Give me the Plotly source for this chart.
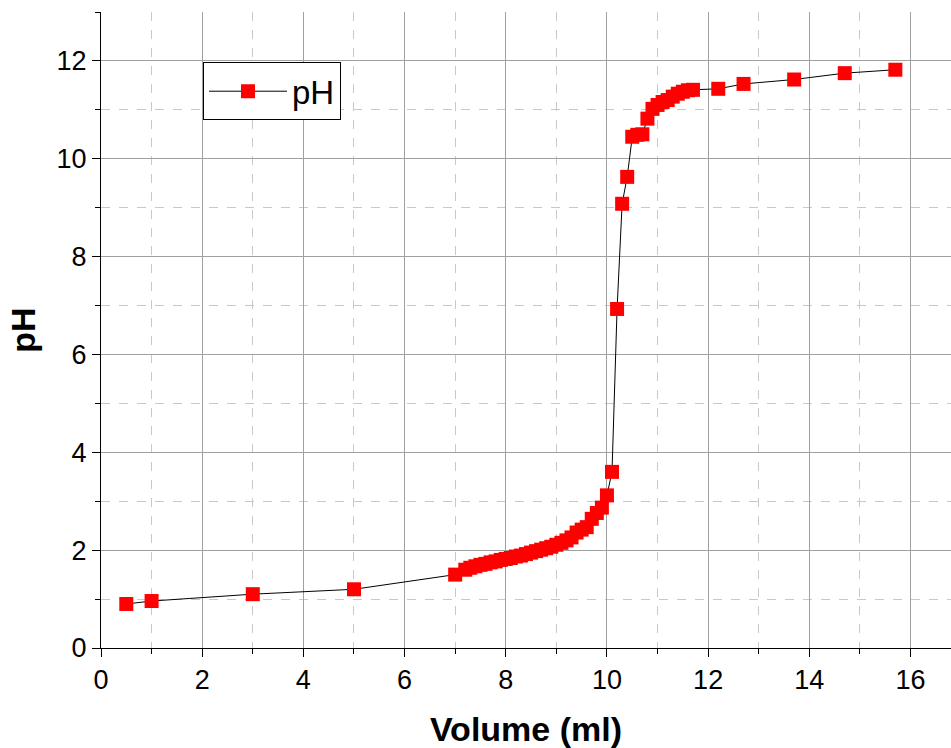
import plotly.graph_objects as go

volume_ml = [0.5, 1.0, 3.0, 5.0, 7.0,
             7.2, 7.3, 7.4, 7.5, 7.6, 7.7, 7.8, 7.9, 8.0, 8.1, 8.2, 8.3, 8.4, 8.5,
             8.6, 8.7, 8.8, 8.9, 9.0, 9.1, 9.2, 9.3, 9.4, 9.5, 9.6, 9.7, 9.8, 9.9,
             10.0, 10.1, 10.2, 10.3, 10.4, 10.5, 10.6, 10.7, 10.8, 10.9, 11.0,
             11.1, 11.2, 11.3, 11.4, 11.5, 11.6, 11.7,
             12.2, 12.7, 13.7, 14.7, 15.7]
ph_values = [0.90, 0.96, 1.10, 1.20, 1.50,
             1.60, 1.64, 1.67, 1.70, 1.72, 1.75, 1.77, 1.80, 1.82, 1.84, 1.87, 1.89, 1.92, 1.95,
             1.98, 2.01, 2.04, 2.07, 2.11, 2.15, 2.20, 2.26, 2.36, 2.42, 2.47, 2.64, 2.76, 2.87,
             3.12, 3.60, 6.93, 9.08, 9.63, 10.45, 10.49, 10.50, 10.82, 11.02, 11.10,
             11.16, 11.20, 11.27, 11.33, 11.37, 11.40, 11.41,
             11.43, 11.53, 11.62, 11.75, 11.82]

x_ticks = [0, 2, 4, 6, 8, 10, 12, 14, 16]
y_ticks = [0, 2, 4, 6, 8, 10, 12]

font_family = "Liberation Sans, Arial, sans-serif"

fig = go.Figure()
fig.add_trace(go.Scatter(
    x=volume_ml, y=ph_values, mode="lines+markers", name="pH",
    line=dict(color="black", width=1),
    marker=dict(symbol="square", size=14, color="#ff0000", line=dict(width=0)),
))

axis_common = dict(
    showline=True, linecolor="black", linewidth=1,
    ticks="outside", ticklen=8, tickwidth=1, tickcolor="black",
    showgrid=True, gridcolor="#a0a0a0", gridwidth=1,
    zeroline=False, automargin=False,
    tickfont=dict(family=font_family, size=27, color="black"),
)

fig.update_xaxes(
    range=[0, 16.8], tickvals=x_ticks,
    minor=dict(dtick=1, ticks="outside", ticklen=5, tickcolor="black",
               showgrid=True, gridcolor="#c8c8c8", griddash="dash", gridwidth=1),
    title=dict(text="<b>Volume (ml)</b>", standoff=25,
               font=dict(family=font_family, size=34, color="black")),
    **axis_common,
)
fig.update_yaxes(
    range=[0, 13], tickvals=y_ticks,
    minor=dict(dtick=1, ticks="outside", ticklen=5, tickcolor="black",
               showgrid=True, gridcolor="#c8c8c8", griddash="dash", gridwidth=1),
    title=dict(text="<b>pH</b>", standoff=10,
               font=dict(family=font_family, size=34, color="black")),
    **axis_common,
)

fig.update_layout(
    width=951, height=748,
    margin=dict(l=101, r=0, t=12, b=100),
    plot_bgcolor="white", paper_bgcolor="white",
    showlegend=True,
    legend=dict(
        x=0.12, y=0.921, xanchor="left", yanchor="top",
        bgcolor="white", bordercolor="black", borderwidth=1,
        font=dict(family=font_family, size=33, color="black"),
        itemwidth=78,
    ),
)

fig.write_html("out.html", config={"displayModeBar": False},
               post_script="document.body.style.margin='0';document.body.style.overflow='hidden';")
